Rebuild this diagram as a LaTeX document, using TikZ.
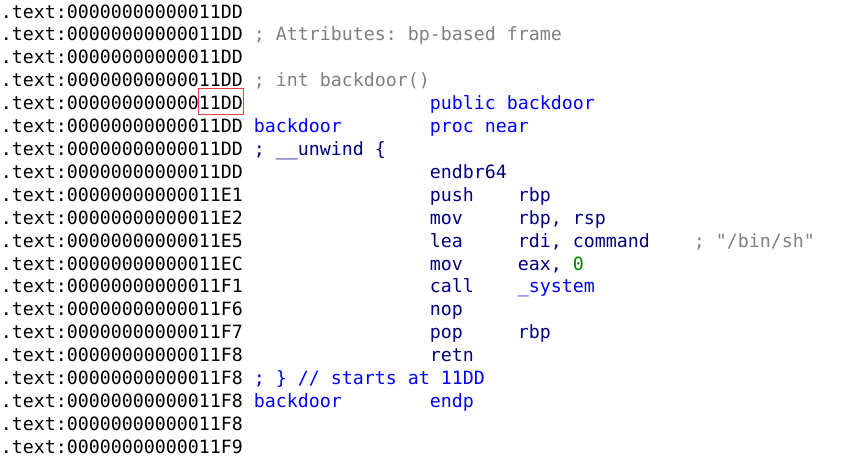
\documentclass[tikz,border=0pt]{standalone}
\usepackage{fontspec}
\setmonofont{DejaVu Sans Mono}
\definecolor{idanavy}{HTML}{000080}
\definecolor{idablue}{HTML}{0000FF}
\definecolor{idagray}{HTML}{808080}
\definecolor{idagreen}{HTML}{008000}
\definecolor{markred}{RGB}{228,64,64}

\begin{document}
\begin{tikzpicture}[x=11pt,y=-22.91pt,
    every node/.style={anchor=base west,inner sep=0pt,outer sep=0pt,
        font=\ttfamily\fontsize{18.27}{22}\selectfont},
    addr/.style={text=black},
    cmt/.style={text=idagray},
    ins/.style={text=idanavy},
    sym/.style={text=idablue},
    num/.style={text=idagreen}]
    \useasboundingbox (-0.073,-0.786) rectangle (77.745,19.162);

    % address column
    \node[addr] (a0) at (0,0) {.text:00000000000011DD};
    \node[addr] (a1) at (0,1) {.text:00000000000011DD};
    \node[addr] (a2) at (0,2) {.text:00000000000011DD};
    \node[addr] (a3) at (0,3) {.text:00000000000011DD};
    \node[addr] (a4) at (0,4) {.text:00000000000011DD};
    \node[addr] (a5) at (0,5) {.text:00000000000011DD};
    \node[addr] (a6) at (0,6) {.text:00000000000011DD};
    \node[addr] (a7) at (0,7) {.text:00000000000011DD};
    \node[addr] (a8) at (0,8) {.text:00000000000011E1};
    \node[addr] (a9) at (0,9) {.text:00000000000011E2};
    \node[addr] (a10) at (0,10) {.text:00000000000011E5};
    \node[addr] (a11) at (0,11) {.text:00000000000011EC};
    \node[addr] (a12) at (0,12) {.text:00000000000011F1};
    \node[addr] (a13) at (0,13) {.text:00000000000011F6};
    \node[addr] (a14) at (0,14) {.text:00000000000011F7};
    \node[addr] (a15) at (0,15) {.text:00000000000011F8};
    \node[addr] (a16) at (0,16) {.text:00000000000011F8};
    \node[addr] (a17) at (0,17) {.text:00000000000011F8};
    \node[addr] (a18) at (0,18) {.text:00000000000011F8};
    \node[addr] (a19) at (0,19) {.text:00000000000011F9};

    % comments and labels
    \node[cmt] (attr) at (23,1) {; Attributes: bp-based frame};
    \node[cmt] (proto) at (23,3) {; int backdoor()};
    \node[sym] (pub) at (39,4) {public backdoor};
    \node[sym] (lblstart) at (23,5) {backdoor};
    \node[sym] (procnear) at (39,5) {proc near};
    \node[ins] (unwind) at (23,6) {; \_\_unwind \{};

    % instructions
    \node[ins] (endbr) at (39,7) {endbr64};
    \node[ins] (push) at (39,8) {push};
    \node[ins] (pushop) at (47,8) {rbp};
    \node[ins] (movA) at (39,9) {mov};
    \node[ins] (movAop) at (47,9) {rbp, rsp};
    \node[ins] (lea) at (39,10) {lea};
    \node[ins] (leaop) at (47,10) {rdi, command};
    \node[cmt] (leacmt) at (63,10) {; "/bin/sh"};
    \node[ins] (movB) at (39,11) {mov};
    \node[ins] (movBop) at (47,11) {eax,};
    \node[num] (zero) at (52,11) {0};
    \node[ins] (call) at (39,12) {call};
    \node[sym] (callop) at (47,12) {\_system};
    \node[ins] (nop) at (39,13) {nop};
    \node[ins] (pop) at (39,14) {pop};
    \node[ins] (popop) at (47,14) {rbp};
    \node[ins] (retn) at (39,15) {retn};

    % end of function
    \node[sym] (starts) at (23,16) {; \} // starts at 11DD};
    \node[sym] (lblend) at (23,17) {backdoor};
    \node[sym] (endp) at (39,17) {endp};

    % mark on the address
    \draw[markred,line width=1pt] (18.0,3.07) rectangle (22.05,4.19);
\end{tikzpicture}
\end{document}
